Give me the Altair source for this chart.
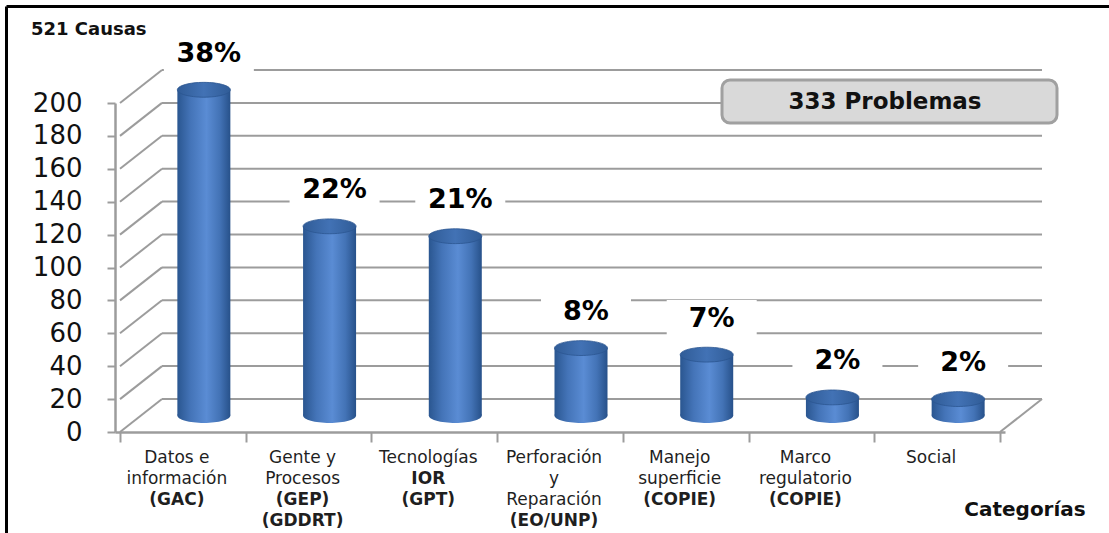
import altair as alt
import pandas as pd

# ---------------- data ----------------
cat_index = [0, 1, 2, 3, 4, 5, 6]
categories = [
    "Datos e información (GAC)",
    "Gente y Procesos (GEP) (GDDRT)",
    "Tecnologías IOR (GPT)",
    "Perforación y Reparación (EO/UNP)",
    "Manejo superficie (COPIE)",
    "Marco regulatorio (COPIE)",
    "Social",
]
values = [198, 115, 109, 41, 37, 11, 10]
label_lines = [
    ["Datos e", "información", "(GAC)"],
    ["Gente y", "Procesos", "(GEP)", "(GDDRT)"],
    ["Tecnologías", "IOR", "(GPT)"],
    ["Perforación", "y", "Reparación", "(EO/UNP)"],
    ["Manejo", "superficie", "(COPIE)"],
    ["Marco", "regulatorio", "(COPIE)"],
    ["Social"],
]
bold_lines = [
    [False, False, True],
    [False, False, True, True],
    [False, True, True],
    [False, False, False, True],
    [False, False, True],
    [False, False, True],
    [False],
]
y_ticks = [0, 20, 40, 60, 80, 100, 120, 140, 160, 180, 200]
x_ticks = [0, 1, 2, 3, 4, 5, 6, 7]
title_text = "521 Causas"
box_text = "333 Problemas"
x_title = "Categorías"

# ---------------- style ----------------
W, H = 890, 329
DX, DY = 42, -33          # 3D depth offset in pixels
BW = 53                   # cylinder width in pixels
GRID = "#9c9c9c"
FONT = "DejaVu Sans"

df = pd.DataFrame({"i": cat_index, "cat": categories, "value": values})
grid_df = pd.DataFrame({"v": y_ticks})
one = pd.DataFrame({"a": [0]})

rows = []
for i, (lines, bolds) in enumerate(zip(label_lines, bold_lines)):
    for j, (t, b) in enumerate(zip(lines, bolds)):
        rows.append({"i": i, "line": j, "text": t, "bold": b})
lab_df = pd.DataFrame(rows)

xs = alt.Scale(domain=[0, 7], nice=False, zero=False)
ys = alt.Scale(domain=[0, 200], nice=False)

x_axis = alt.Axis(values=x_ticks, labels=False, title=None, grid=False,
                  domainColor=GRID, domainWidth=2.5, tickColor=GRID, tickWidth=2,
                  tickSize=10)
y_axis = alt.Axis(values=y_ticks, title=None, grid=False, domainColor=GRID,
                  domainWidth=2.5, tickColor=GRID, tickWidth=2, tickSize=8,
                  labelFont=FONT, labelFontSize=26, labelColor="#111111",
                  labelPadding=25)


def XF(field):
    return alt.X(field, scale=xs, axis=x_axis)


def YF(field):
    return alt.Y(field, scale=ys, axis=y_axis)


def XD(v):
    return alt.XDatum(v, scale=xs, axis=x_axis, type="quantitative")


def YD(v):
    return alt.YDatum(v, scale=ys, axis=y_axis, type="quantitative")


body_grad = alt.LinearGradient(
    gradient="linear", x1=0, x2=1, y1=0, y2=0,
    stops=[
        alt.GradientStop(color="#2a5690", offset=0),
        alt.GradientStop(color="#4474b8", offset=0.25),
        alt.GradientStop(color="#5a8cd4", offset=0.55),
        alt.GradientStop(color="#4373b6", offset=0.8),
        alt.GradientStop(color="#27518a", offset=1),
    ],
)
top_grad = alt.LinearGradient(
    gradient="linear", x1=0, x2=1, y1=0, y2=0,
    stops=[
        alt.GradientStop(color="#305c97", offset=0),
        alt.GradientStop(color="#4272b5", offset=0.5),
        alt.GradientStop(color="#305c97", offset=1),
    ],
)
ELL = ("M-1,0 C-1,-0.155 -0.552,-0.28 0,-0.28 C0.552,-0.28 1,-0.155 1,0 "
       "C1,0.155 0.552,0.28 0,0.28 C-0.552,0.28 -1,0.155 -1,0 Z")
RECT = "M-1.2,-0.5 L1.2,-0.5 L1.2,0.5 L-1.2,0.5 Z"

# ---------------- 3D walls ----------------
diag = alt.Chart(grid_df).mark_rule(color=GRID, strokeWidth=2, x2Offset=DX, y2Offset=DY).encode(
    x=XD(0), x2=alt.X2Datum(0), y=YF("v:Q"), y2=alt.Y2("v:Q"))
back = alt.Chart(grid_df).mark_rule(color=GRID, strokeWidth=2, xOffset=DX, x2Offset=DX, yOffset=DY).encode(
    x=XD(0), x2=alt.X2Datum(7), y=YF("v:Q"))
floor_edge = alt.Chart(one).mark_rule(color=GRID, strokeWidth=2, x2Offset=DX, y2Offset=DY).encode(
    x=XD(7), x2=alt.X2Datum(7), y=YD(0), y2=alt.Y2Datum(0))

# ---------------- cylinders ----------------
base = alt.Chart(df).transform_joinaggregate(total="sum(value)").transform_calculate(
    pos="datum.i + 0.5",
    pct="round(datum.value / datum.total * 100) + '%'")

bottom = base.mark_point(shape=ELL, size=BW * BW, filled=True, fill=body_grad, opacity=1,
                         strokeWidth=0, xOffset=DX / 2, yOffset=DY / 2).encode(
    x=XF("pos:Q"), y=YD(0))
body = base.mark_bar(size=BW, color=body_grad, xOffset=DX / 2, yOffset=DY / 2,
                     y2Offset=DY / 2).encode(
    x=XF("pos:Q"), y=YF("value:Q"), y2=alt.Y2Datum(0))
top = base.mark_point(shape=ELL, size=BW * BW, filled=True, fill=top_grad, opacity=1,
                      stroke="#2b5690", strokeWidth=0.8, xOffset=DX / 2, yOffset=DY / 2).encode(
    x=XF("pos:Q"), y=YF("value:Q"))

# ---------------- percent labels ----------------
LBL_DY = DY / 2 - 36
pct_bg = base.mark_point(shape=RECT, size=75 * 75, filled=True, fill="white", opacity=1,
                         strokeWidth=0, xOffset=26, yOffset=LBL_DY).encode(
    x=XF("pos:Q"), y=YF("value:Q"))
pct_txt = base.mark_text(font=FONT, fontSize=27, fontWeight="bold", color="black",
                         xOffset=26, yOffset=LBL_DY, baseline="middle").encode(
    x=XF("pos:Q"), y=YF("value:Q"), text="pct:N")

# ---------------- category labels ----------------
cat_layers = []
for j in range(4):
    for b in (False, True):
        cat_layers.append(
            alt.Chart(lab_df).transform_filter(
                f"datum.line == {j} && datum.bold == {'true' if b else 'false'}"
            ).transform_calculate(pos="datum.i + 0.5").mark_text(
                font=FONT, fontSize=17, fontWeight="bold" if b else "normal",
                color="#1f1f1f", baseline="middle", align="center",
                dy=26 + 21 * j, dx=-6).encode(
                x=XF("pos:Q"), y=YD(0), text="text:N"))

# ---------------- annotations ----------------
frame_top = alt.Chart(one).mark_rule(color="black", strokeWidth=3).encode(
    x=alt.value(-108.5), x2=alt.value(994), y=alt.value(-96.5))
frame_left = alt.Chart(one).mark_rule(color="black", strokeWidth=3).encode(
    x=alt.value(-108.5), y=alt.value(-96.5), y2=alt.value(430))
title = alt.Chart(one).mark_text(font=FONT, fontSize=18, fontWeight="bold", color="#111111",
                                 align="left", baseline="middle").encode(
    x=alt.value(-84), y=alt.value(-73), text=alt.value(title_text))
box = alt.Chart(one).mark_rect(fill="#d9d9d9", stroke="#a0a0a0", strokeWidth=3,
                               cornerRadius=8).encode(
    x=alt.value(607), x2=alt.value(942), y=alt.value(-23), y2=alt.value(20))
box_label = alt.Chart(one).mark_text(font=FONT, fontSize=23, fontWeight="bold", color="#111111",
                                     align="center", baseline="middle").encode(
    x=alt.value(770), y=alt.value(-1), text=alt.value(box_text))
xtitle = alt.Chart(one).mark_text(font=FONT, fontSize=20, fontWeight="bold", color="#111111",
                                  align="center", baseline="middle").encode(
    x=alt.value(910), y=alt.value(407), text=alt.value(x_title))

chart = alt.layer(
    diag, back, floor_edge, bottom, body, top, pct_bg, pct_txt, *cat_layers,
    frame_top, frame_left, title, box, box_label, xtitle,
).properties(
    width=W, height=H,
    autosize=alt.AutoSizeParams(type="none"),
    padding={"left": 115, "top": 103, "right": 104, "bottom": 101},
    background="white",
).configure_view(stroke=None)

chart.save("out.html", embed_options={"renderer": "svg", "actions": False})
